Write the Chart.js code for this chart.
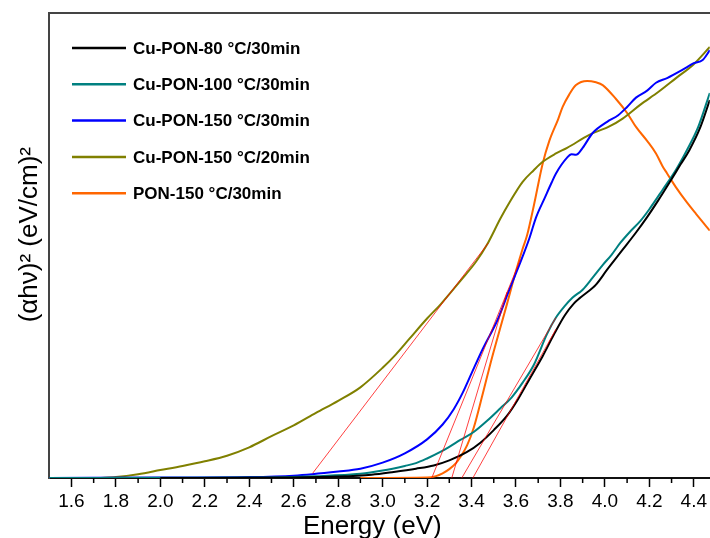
<!DOCTYPE html>
<html>
<head>
<meta charset="utf-8">
<script src="https://cdn.jsdelivr.net/npm/chart.js@4.4.1/dist/chart.umd.min.js"></script>
<style>
  html, body { margin: 0; padding: 0; background: #fff; overflow: hidden; }
  #wrap { width: 710px; height: 538px; overflow: hidden; }
</style>
</head>
<body>
<div id="wrap"><canvas id="chart" width="710" height="552"></canvas></div>
<script>
// --- data (y is in arbitrary units, 0..100) ---
const seriesLabels = ['Cu-PON-80 °C/30min', 'Cu-PON-100 °C/30min', 'Cu-PON-150 °C/30min', 'Cu-PON-150 °C/20min', 'PON-150 °C/30min'];
const seriesColors = ['#000000', '#008080', '#0000ff', '#808000', '#ff6600'];

const energy80 = [2.0, 2.6, 2.8, 2.95, 3.05, 3.15, 3.23, 3.30, 3.38, 3.44, 3.50, 3.56, 3.61, 3.66, 3.72, 3.77, 3.82, 3.86, 3.89, 3.96, 4.01, 4.08, 4.14, 4.19, 4.24, 4.29, 4.34, 4.38, 4.43, 4.472];
const absorb80 = [0, 0.1, 0.3, 0.7, 1.3, 2.0, 2.7, 3.8, 5.6, 7.6, 10.3, 13.4, 17.0, 21.2, 26.2, 30.8, 35.0, 37.5, 38.8, 41.6, 44.8, 49.1, 52.8, 56.1, 59.7, 63.5, 67.4, 70.5, 75.5, 81.3];

const energy100 = [1.5, 2.4, 2.7, 2.9, 3.0, 3.1, 3.15, 3.2, 3.26, 3.30, 3.35, 3.41, 3.47, 3.53, 3.58, 3.63, 3.68, 3.74, 3.78, 3.82, 3.855, 3.90, 3.945, 3.99, 4.03, 4.07, 4.11, 4.16, 4.20, 4.26, 4.32, 4.37, 4.42, 4.472];
const absorb100 = [0, 0.1, 0.4, 0.9, 1.6, 2.6, 3.2, 4.2, 5.6, 6.7, 8.2, 9.9, 12.3, 15.0, 17.3, 20.5, 24.3, 31.0, 34.5, 37.0, 38.8, 40.5, 43.1, 45.8, 48.0, 50.6, 52.8, 55.3, 57.8, 62.0, 66.3, 70.6, 75.5, 82.8];

const energy150 = [1.5, 2.0, 2.4, 2.6, 2.8, 2.9, 3.0, 3.1, 3.2, 3.27, 3.32, 3.36, 3.40, 3.45, 3.52, 3.57, 3.62, 3.66, 3.69, 3.73, 3.76, 3.78, 3.83, 3.85, 3.87, 3.90, 3.945, 4.01, 4.06, 4.10, 4.14, 4.19, 4.23, 4.28, 4.35, 4.40, 4.44, 4.472];
const absorb150 = [0, 0.1, 0.2, 0.5, 1.4, 2.0, 3.3, 5.3, 8.3, 11.5, 14.8, 18.3, 22.5, 27.7, 34.3, 40.5, 46.4, 51.5, 56.0, 60.3, 63.5, 65.5, 68.9, 69.6, 69.5, 71.0, 74.2, 76.6, 78.0, 79.8, 81.8, 83.3, 85.0, 86.0, 87.8, 89.2, 89.9, 92.0];

const energy150s = [1.72, 1.80, 1.90, 2.00, 2.10, 2.20, 2.30, 2.40, 2.50, 2.60, 2.70, 2.80, 2.90, 3.00, 3.06, 3.12, 3.20, 3.26, 3.35, 3.42, 3.47, 3.53, 3.57, 3.63, 3.68, 3.72, 3.78, 3.83, 3.93, 4.02, 4.08, 4.16, 4.24, 4.32, 4.40, 4.472];
const absorb150s = [0, 0.2, 0.8, 1.7, 2.6, 3.6, 4.8, 6.6, 9.0, 11.3, 14.0, 16.6, 19.5, 23.7, 26.6, 29.9, 34.3, 37.3, 42.4, 46.5, 50.2, 55.8, 59.2, 63.7, 66.2, 68.0, 69.8, 71.0, 73.8, 75.6, 77.3, 80.3, 83.0, 86.0, 89.0, 92.7];

const energyPon = [2.9, 3.20, 3.24, 3.27, 3.30, 3.33, 3.35, 3.38, 3.41, 3.45, 3.49, 3.54, 3.56, 3.60, 3.63, 3.65, 3.68, 3.72, 3.75, 3.79, 3.81, 3.84, 3.87, 3.92, 3.96, 3.99, 4.05, 4.10, 4.14, 4.19, 4.23, 4.26, 4.28, 4.32, 4.37, 4.41, 4.472];
const absorbPon = [0, 0.1, 0.4, 1.0, 1.9, 3.2, 4.5, 7.0, 10.8, 18.0, 25.5, 34.1, 37.5, 44.5, 49.3, 52.2, 58.5, 67.6, 72.5, 77.2, 79.8, 82.5, 84.5, 85.4, 85.1, 84.5, 81.5, 78.5, 75.5, 72.5, 69.8, 67.0, 65.5, 62.5, 59.2, 56.8, 53.2];

// linear fits (Tauc extrapolation), start and end of each red line
const fitEnergy = [[2.685, 3.475], [3.221, 3.62], [3.311, 3.56], [3.356, 3.78], [3.406, 3.78]];
const fitAbsorb = [[1.0, 50.5], [0, 47], [0, 40], [0, 34.5], [0, 32]];

const xTickValues = [1.6, 1.8, 2.0, 2.2, 2.4, 2.6, 2.8, 3.0, 3.2, 3.4, 3.6, 3.8, 4.0, 4.2, 4.4];
const xMinorValues = [1.7, 1.9, 2.1, 2.3, 2.5, 2.7, 2.9, 3.1, 3.3, 3.5, 3.7, 3.9, 4.1, 4.3];

const FONT = '"Liberation Sans", Arial, Helvetica, sans-serif';
Chart.defaults.font.family = FONT;
Chart.defaults.color = '#000';

const curveE = [energy80, energy100, energy150, energy150s, energyPon];
const curveA = [absorb80, absorb100, absorb150, absorb150s, absorbPon];

const datasets = [];
curveE.forEach((es, k) => {
    datasets.push({
        label: seriesLabels[k],
        data: es.map((e, i) => ({ x: e, y: curveA[k][i] })),
        borderColor: seriesColors[k],
        borderWidth: 2,
        pointRadius: 0,
        cubicInterpolationMode: 'monotone',
        order: 2
    });
});
fitEnergy.forEach((es, k) => {
    datasets.push({
        label: 'fit' + k,
        data: es.map((e, i) => ({ x: e, y: fitAbsorb[k][i] })),
        borderColor: 'rgba(255, 0, 0, 0.75)',
        borderWidth: 1,
        pointRadius: 0,
        tension: 0,
        order: 1
    });
});

// minor ticks + legend drawn on top
const extras = {
    id: 'extras',
    afterDraw(chart) {
        const ctx = chart.ctx;
        const xs = chart.scales.x;
        const bottom = chart.chartArea.bottom;
        ctx.save();
        ctx.strokeStyle = '#000';
        ctx.lineWidth = 1.5;
        xMinorValues.forEach(v => {
            const px = xs.getPixelForValue(v);
            ctx.beginPath();
            ctx.moveTo(px, bottom);
            ctx.lineTo(px, bottom + 5);
            ctx.stroke();
        });

        ctx.font = 'bold 17px ' + FONT;
        ctx.textBaseline = 'middle';
        ctx.textAlign = 'left';
        seriesLabels.forEach((lab, i) => {
            const y = 48 + i * 36.3;
            ctx.strokeStyle = seriesColors[i];
            ctx.lineWidth = 2.5;
            ctx.beginPath();
            ctx.moveTo(72, y);
            ctx.lineTo(126, y);
            ctx.stroke();
            ctx.fillStyle = '#000';
            ctx.fillText(lab, 133, y + 1);
        });
        ctx.restore();
    }
};

new Chart(document.getElementById('chart'), {
    type: 'line',
    data: { datasets: datasets },
    plugins: [extras],
    options: {
        responsive: false,
        animation: false,
        layout: { padding: { top: 13, right: 0, left: 0, bottom: 0 } },
        plugins: { legend: { display: false }, tooltip: { enabled: false } },
        scales: {
            x: {
                type: 'linear',
                min: 1.5,
                max: 4.472,
                afterBuildTicks: (s) => { s.ticks = xTickValues.map(v => ({ value: v })); },
                ticks: {
                    font: { size: 19 },
                    padding: 3,
                    maxRotation: 0,
                    callback: (v) => Number(v).toFixed(1)
                },
                grid: { display: true, drawOnChartArea: false, tickLength: 9, tickColor: '#000', tickWidth: 1.5 },
                border: { display: true, color: '#111', width: 2 },
                // trailing spaces nudge the title a little left, as in the figure
                title: { display: true, text: 'Energy (eV)\u00a0\u00a0', font: { size: 26 }, padding: { top: -5, bottom: 10 } }
            },
            x2: {
                type: 'linear',
                position: 'top',
                min: 1.5,
                max: 4.472,
                ticks: { display: false },
                grid: { display: false, drawTicks: false },
                border: { display: true, color: '#444', width: 2 }
            },
            y: {
                min: 0,
                max: 100,
                ticks: { display: false },
                grid: { display: false, drawTicks: false },
                border: { display: true, color: '#444', width: 2 },
                title: { display: true, text: '\u00a0\u00a0\u00a0(αhν)² (eV/cm)²', font: { size: 26 }, padding: { top: 14, bottom: 4 } }
            }
        }
    }
});
</script>
</body>
</html>
